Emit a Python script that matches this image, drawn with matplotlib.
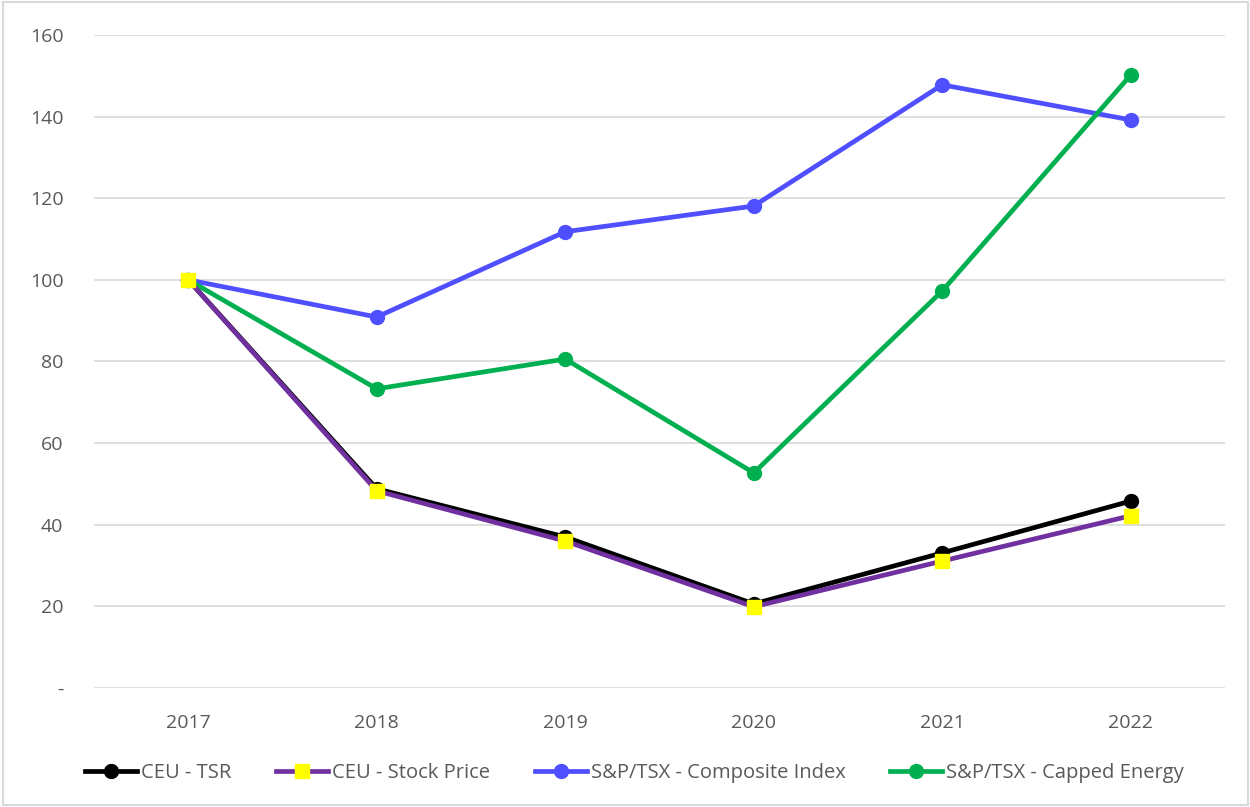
import matplotlib.pyplot as plt
import numpy as np

years = ["2017", "2018", "2019", "2020", "2021", "2022"]
ceu_tsr = [100, 48.8, 37.0, 20.6, 33.1, 45.8]
ceu_price = [100, 48.3, 36.0, 19.9, 31.1, 42.2]
composite = [100, 90.9, 111.8, 118.1, 147.8, 139.2]
energy = [100, 73.3, 80.6, 52.7, 97.3, 150.2]

plt.rcParams['font.family'] = ['Open Sans', 'DejaVu Sans']

fig = plt.figure(figsize=(12.5, 8.07), dpi=100)
ax = fig.add_axes([0.0752, 0.1475, 0.9048, 0.8091])
x = np.arange(len(years))

ax.plot(x, ceu_tsr, "-o", color="black", lw=3.4, ms=10, label="CEU - TSR", zorder=3)
ax.plot(x, ceu_price, "-s", color="#7030A0", lw=3.4, ms=10, mfc="#FFFF00", mec="#FFFF00",
        label="CEU - Stock Price", zorder=4)
ax.plot(x, composite, "-o", color="#4F4FFF", lw=3.4, ms=10, label="S&P/TSX - Composite Index", zorder=3)
ax.plot(x, energy, "-o", color="#00B050", lw=3.4, ms=10, label="S&P/TSX - Capped Energy", zorder=3)

ax.set_xlim(-0.5, len(years) - 0.5)
ax.set_ylim(0, 160)
ax.set_xticks(x)
ax.set_xticklabels(years)
ax.set_yticks(np.arange(0, 161, 20))
ax.set_yticklabels(["-"] + [str(v) for v in range(20, 161, 20)])
ax.tick_params(length=0, labelsize=14, labelcolor="#595959", pad=19)
ax.tick_params(axis="y", pad=22)
ax.grid(axis="y", color="#D9D9D9", lw=1.2)
ax.set_axisbelow(True)
for s in ax.spines.values():
    s.set_visible(False)

ax.legend(loc="center", bbox_to_anchor=(0.478, -0.13), ncol=4, frameon=False,
          fontsize=14.5, labelcolor="#595959", handlelength=2.6, handletextpad=0.2,
          columnspacing=2.2)

fig.patches.append(plt.Rectangle((0.002, 0.002), 0.996, 0.996, transform=fig.transFigure,
                                 fill=False, edgecolor="#D9D9D9", lw=1.5))

fig.savefig("out.png", dpi=100)
